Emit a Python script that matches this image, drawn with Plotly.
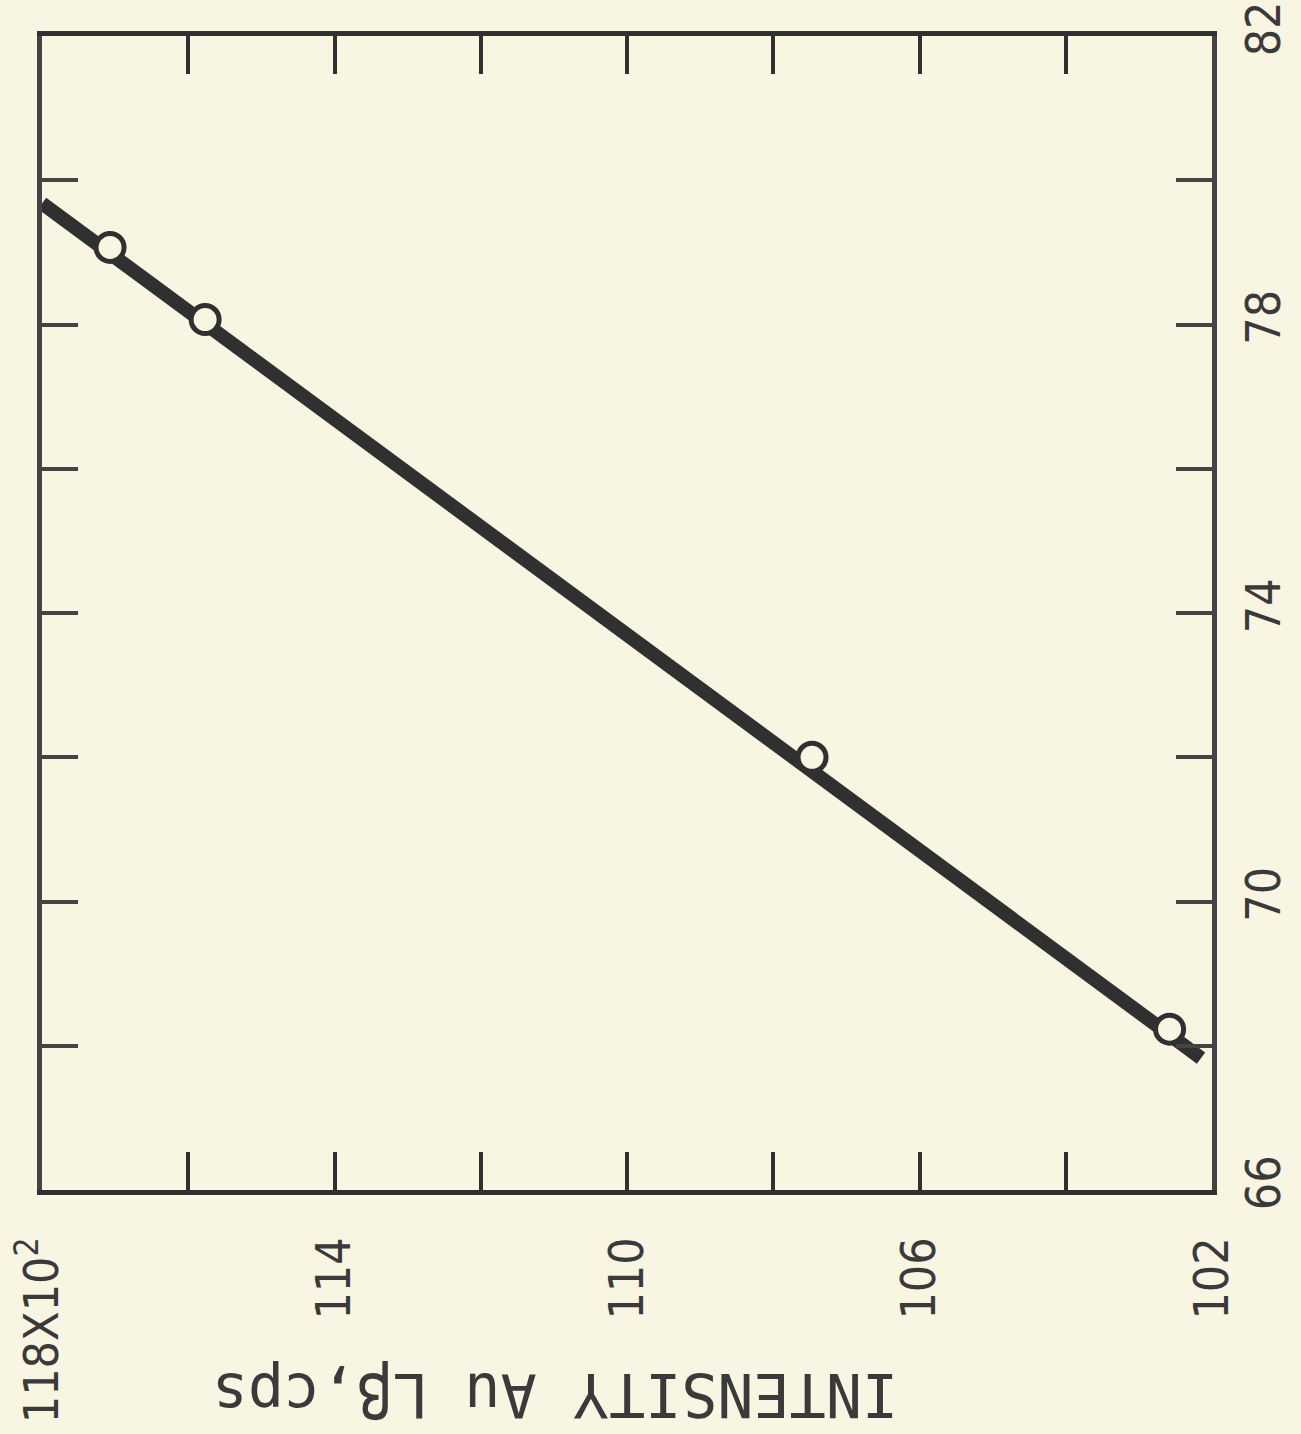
import plotly.graph_objects as go

# Data (x: intensity Au Lβ in units of 10^2 cps, y: right-axis quantity)
point_x = [117.07, 115.77, 107.47, 102.58]
point_y = [79.07, 78.07, 72.0, 68.23]

fit_x = [118.0, 102.15]
fit_y = [79.68, 67.83]

x_tickvals = [102, 106, 110, 114, 118]
x_ticktext = ["102", "106", "110", "114", "118X10<sup>2</sup>"]
x_minorvals = [104, 108, 112, 116]
y_tickvals = [66, 70, 74, 78, 82]
y_ticktext = ["66", "70", "74", "78", "82"]
y_minorvals = [68, 72, 76, 80]

axis_title = "INTENSITY Au Lβ,cps"

bg = "#f9f5e3"
ink = "#303030"
ink2 = "#444444"
label_font = dict(family="Liberation Sans Narrow, DejaVu Sans Condensed, Arial Narrow, sans-serif",
                  size=48, color="#3a3a3a")

fig = go.Figure()
fig.add_trace(go.Scatter(x=fit_x, y=fit_y, mode="lines",
                         line=dict(color=ink, width=14), hoverinfo="skip", showlegend=False))
fig.add_trace(go.Scatter(x=point_x, y=point_y, mode="markers",
                         marker=dict(symbol="circle", size=28, color=bg,
                                     line=dict(color=ink, width=5)),
                         showlegend=False))

fig.update_layout(
    width=1301, height=1434,
    margin=dict(l=42, r=89, t=36, b=244),
    paper_bgcolor=bg, plot_bgcolor=bg,
    showlegend=False,
)
fig.update_xaxes(
    range=[118.001, 102], tickvals=x_tickvals, ticktext=x_ticktext, automargin=False,
    tickangle=-90, ticks="inside", ticklen=38, tickwidth=4, tickcolor=ink,
    minor=dict(tickvals=x_minorvals, ticks="inside", ticklen=38, tickwidth=4, tickcolor=ink, showgrid=False),
    showline=True, linewidth=5, linecolor=ink, mirror="ticks",
    showgrid=False, zeroline=False, tickfont=label_font, ticklabelstandoff=23,
    ticklabeloverflow="allow",
)
fig.update_yaxes(
    range=[66, 82.001], tickvals=y_tickvals, ticktext=y_ticktext, side="right", automargin=False,
    tickangle=-90, ticks="inside", ticklen=36, tickwidth=4, tickcolor=ink2,
    minor=dict(tickvals=y_minorvals, ticks="inside", ticklen=36, tickwidth=4, tickcolor=ink2, showgrid=False),
    showline=True, linewidth=5, linecolor=ink2, mirror="ticks",
    showgrid=False, zeroline=False, tickfont=label_font, ticklabelstandoff=5,
    ticklabeloverflow="allow",
)
fig.add_annotation(
    text=axis_title, xref="paper", yref="paper", x=0.4385, y=-0.177,
    showarrow=False, textangle=180, xanchor="center", yanchor="middle",
    font=dict(family="DejaVu Sans Mono, Liberation Mono, monospace", size=60, color="#3a3a3a"),
)

fig.write_html("out.html")
